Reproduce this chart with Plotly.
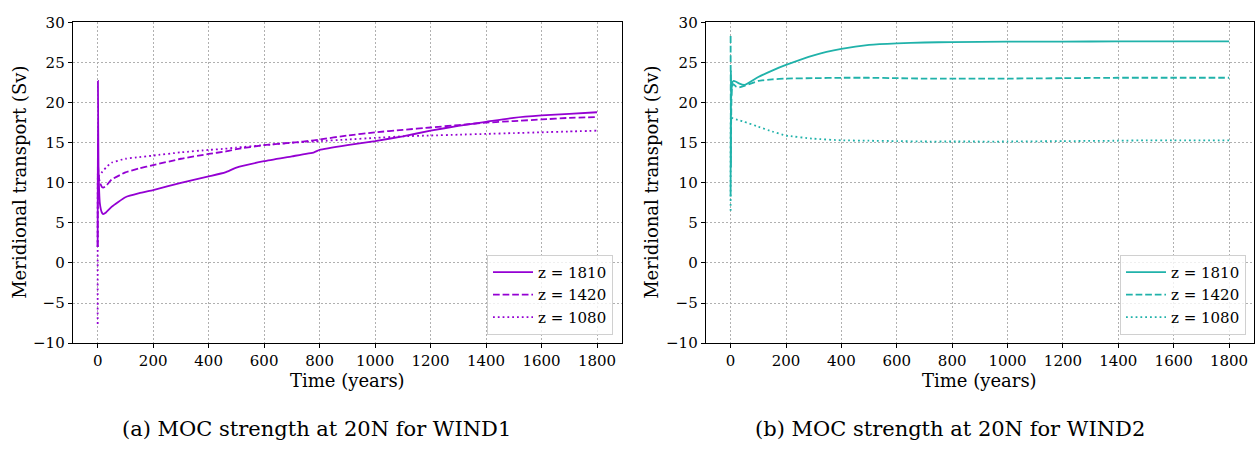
import plotly.graph_objects as go

# ---- data ----
t_a = [0, 1, 3, 8, 15, 20, 30, 50, 100, 150, 200, 300, 400, 460, 500, 600, 700, 780, 800, 900,
       1000, 1100, 1200, 1300, 1400, 1500, 1600, 1700, 1800]
a_1810 = [2.0, 22.7, 12.0, 7.4, 6.3, 6.1, 6.3, 7.0, 8.2, 8.7, 9.1, 10.0, 10.8, 11.3, 11.9, 12.7, 13.3,
          13.8, 14.1, 14.7, 15.2, 15.8, 16.5, 17.1, 17.6, 18.1, 18.4, 18.6, 18.8]
a_1420 = [2.0, 12.5, 11.0, 10.0, 9.5, 9.4, 9.6, 10.4, 11.3, 11.8, 12.2, 13.0, 13.6, 13.9, 14.2, 14.7,
          15.0, 15.3, 15.4, 15.9, 16.3, 16.6, 16.9, 17.2, 17.5, 17.7, 17.9, 18.1, 18.2]
a_1080 = [-7.6, 11.5, 10.8, 11.0, 11.3, 11.5, 11.9, 12.5, 13.0, 13.2, 13.4, 13.8, 14.1, 14.25, 14.4, 14.7,
          15.0, 15.15, 15.2, 15.4, 15.6, 15.8, 15.9, 16.0, 16.1, 16.2, 16.3, 16.4, 16.5]

t_b = [0, 1, 2, 5, 10, 20, 30, 50, 100, 150, 200, 300, 400, 500, 600, 700, 800, 1000, 1200, 1400,
       1500, 1600, 1800]
b_1810 = [8.3, 24.0, 20.5, 22.4, 22.7, 22.6, 22.4, 22.2, 23.2, 24.0, 24.7, 25.9, 26.7, 27.2, 27.4, 27.5,
          27.55, 27.6, 27.6, 27.65, 27.65, 27.65, 27.65]
b_1420 = [28.3, 12.0, 18.0, 22.0, 22.3, 22.0, 21.9, 22.1, 22.7, 22.9, 23.0, 23.05, 23.1, 23.1, 23.05,
          23.0, 23.0, 23.0, 23.05, 23.1, 23.1, 23.1, 23.1]
b_1080 = [6.5, 18.3, 18.2, 18.1, 18.0, 17.9, 17.8, 17.6, 17.0, 16.4, 15.9, 15.5, 15.3, 15.25, 15.2,
          15.15, 15.15, 15.15, 15.2, 15.25, 15.3, 15.3, 15.3]

labels = ["z = 1810", "z = 1420", "z = 1080"]
x_ticks = [0, 200, 400, 600, 800, 1000, 1200, 1400, 1600, 1800]
y_ticks = [-10, -5, 0, 5, 10, 15, 20, 25, 30]
y_tick_text = ["\u221210", "\u22125", "0", "5", "10", "15", "20", "25", "30"]
captions = ["(a) MOC strength at 20N for WIND1", "(b) MOC strength at 20N for WIND2"]

purple = "#9400D3"
teal = "#20B2AA"
lw = 1.8
dashes = ["solid", "6.7px,2.9px", "1.8px,3px"]
FONT = "'DejaVu Serif', 'Liberation Serif', serif"

fig = go.Figure()
for ys, lab, d in zip([a_1810, a_1420, a_1080], labels, dashes):
    fig.add_trace(go.Scatter(x=t_a, y=ys, mode="lines", name=lab, legend="legend",
                             line=dict(color=purple, width=lw, dash=d, shape="spline", smoothing=0.4),
                             xaxis="x", yaxis="y"))
for ys, lab, d in zip([b_1810, b_1420, b_1080], labels, dashes):
    fig.add_trace(go.Scatter(x=t_b, y=ys, mode="lines", name=lab, legend="legend2",
                             line=dict(color=teal, width=lw, dash=d, shape="spline", smoothing=0.4),
                             xaxis="x2", yaxis="y2"))

W, H = 1257, 453
top, bottom = 14, 348
ydom = [1 - bottom / H, 1 - top / H]
xdom1 = [72.7 / W, 622 / W]
xdom2 = [705.7 / W, 1254 / W]

axis_common = dict(showline=True, linecolor="black", linewidth=1, mirror=True,
                   ticks="outside", ticklen=4, tickcolor="black", showgrid=True,
                   gridcolor="#b0b0b0", gridwidth=0.8, griddash="2px,2px", zeroline=False,
                   tickfont=dict(family=FONT, size=15, color="black"))

legend_common = dict(xanchor="right", yanchor="top", bgcolor="rgba(255,255,255,0.8)",
                     bordercolor="#d0d0d0", borderwidth=1, font=dict(family=FONT, size=15, color="black"),
                     itemwidth=40, tracegroupgap=0)

fig.update_layout(
    width=W, height=H, margin=dict(l=0, r=0, t=0, b=0),
    paper_bgcolor="white", plot_bgcolor="white", showlegend=True,
    xaxis=dict(domain=xdom1, range=[-90, 1890], tickvals=x_ticks, anchor="y", **axis_common),
    yaxis=dict(domain=ydom, range=[-10, 30], tickvals=y_ticks, ticktext=y_tick_text, anchor="x", **axis_common),
    xaxis2=dict(domain=xdom2, range=[-90, 1890], tickvals=x_ticks, anchor="y2", **axis_common),
    yaxis2=dict(domain=ydom, range=[-10, 30], tickvals=y_ticks, ticktext=y_tick_text, anchor="x2", **axis_common),
    legend=dict(x=613 / W, y=1 - 256 / H, **legend_common),
    legend2=dict(x=1246 / W, y=1 - 256 / H, **legend_common),
)

ann = []
for cx in [(xdom1[0] + xdom1[1]) / 2, (xdom2[0] + xdom2[1]) / 2]:
    ann.append(dict(x=cx, y=1 - 387 / H, xref="paper", yref="paper", text="Time (years)", showarrow=False,
                    font=dict(family=FONT, size=18, color="black"), xanchor="center", yanchor="middle"))
for cx, cap in zip([316 / W, 950 / W], captions):
    ann.append(dict(x=cx, y=1 - 437 / H, xref="paper", yref="paper", text=cap, showarrow=False,
                    font=dict(family=FONT, size=21, color="black"), xanchor="center", yanchor="middle"))
for cx in [20 / W, 652 / W]:
    ann.append(dict(x=cx, y=1 - 181 / H, xref="paper", yref="paper", text="Meridional transport (Sv)",
                    showarrow=False, textangle=-90, font=dict(family=FONT, size=18, color="black"),
                    xanchor="center", yanchor="middle"))
fig.update_layout(annotations=ann)

fig.write_html("out.html")
